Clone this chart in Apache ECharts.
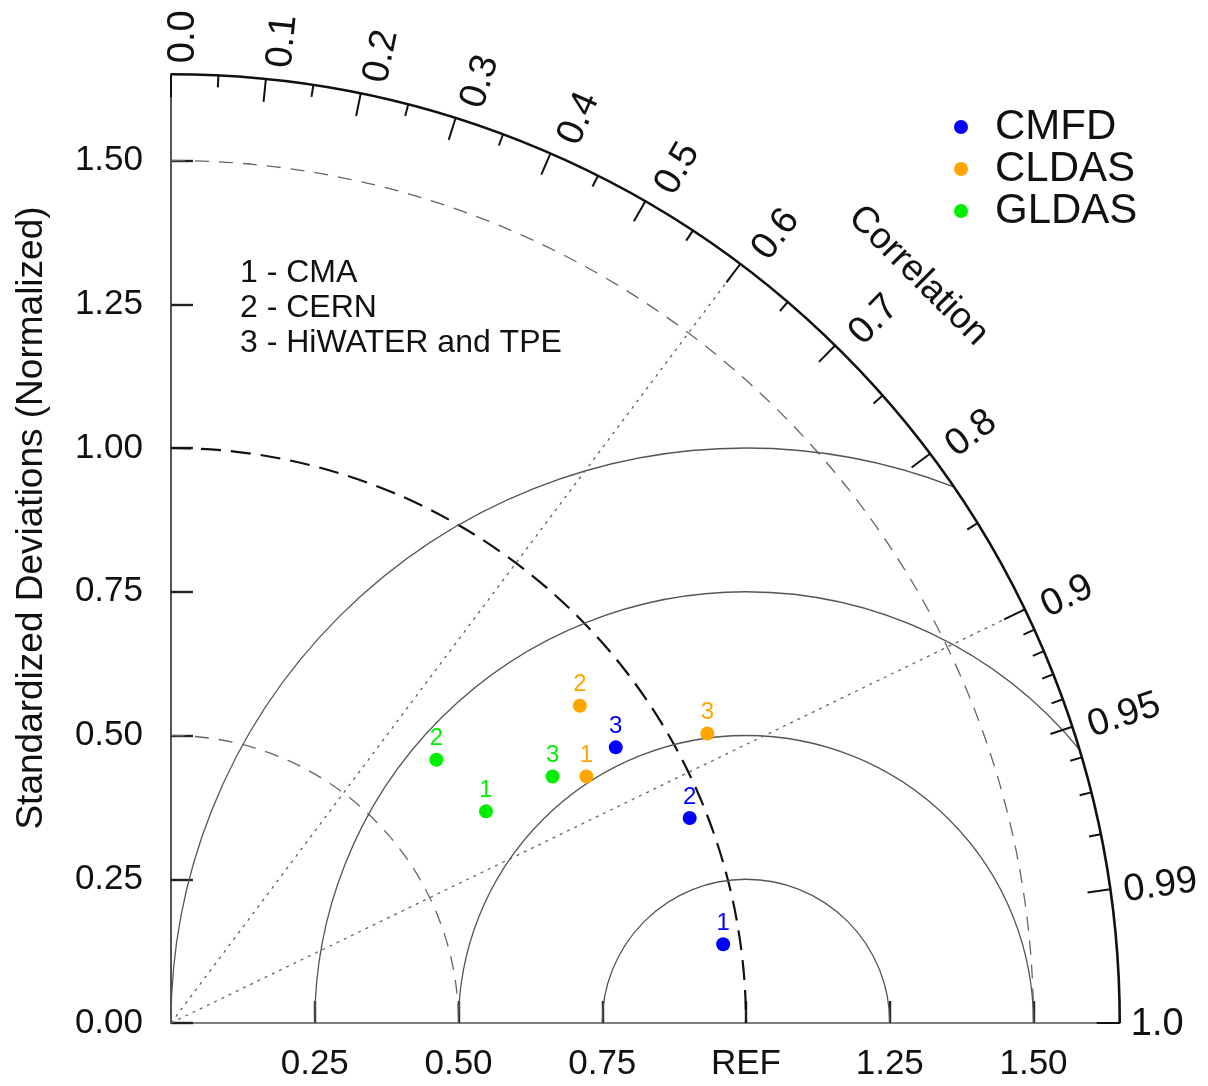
<!DOCTYPE html>
<html><head><meta charset="utf-8">
<script src="https://cdn.jsdelivr.net/npm/echarts@6/dist/echarts.min.js"></script>
<style>html,body{margin:0;padding:0;background:#fff}#c{width:1208px;height:1086px}</style>
</head><body><div id="c"></div>
<script>
// ---- data ----
const seriesNames = ['CMFD', 'CLDAS', 'GLDAS'];
const seriesColors = ['#0000ff', '#ffa500', '#00ee00'];
const pointLabels = ['1', '2', '3'];
const cmfdStd = [0.97, 0.97, 0.91];
const cmfdCorr = [0.99, 0.93, 0.85];
const cldasStd = [0.84, 0.90, 1.06];
const cldasCorr = [0.86, 0.79, 0.88];
const gldasStd = [0.66, 0.65, 0.79];
const gldasCorr = [0.83, 0.71, 0.84];
const sourceNotes = ['1 - CMA', '2 - CERN', '3 - HiWATER and TPE'];
const yTicks = [0, 0.25, 0.5, 0.75, 1.0, 1.25, 1.5];
const xTicks = [0.25, 0.5, 0.75, 1.0, 1.25, 1.5];
const refStd = 1.0;
const stdMax = 1.65;
const corrMajor = [0.0, 0.1, 0.2, 0.3, 0.4, 0.5, 0.6, 0.7, 0.8, 0.9, 0.95, 0.99, 1.0];
const corrMajorLabels = ['0.0', '0.1', '0.2', '0.3', '0.4', '0.5', '0.6', '0.7', '0.8', '0.9', '0.95', '0.99', '1.0'];
const corrMinor = [0.05, 0.15, 0.25, 0.35, 0.45, 0.55, 0.65, 0.75, 0.85, 0.91, 0.92, 0.93, 0.94, 0.96, 0.97, 0.98];
const stdArcs = [0.5, 1.0, 1.5];
const rmsArcs = [0.25, 0.5, 0.75, 1.0];
const corrLines = [0.6, 0.9];
const yTitle = 'Standardized Deviations (Normalized)';
const corrTitle = 'Correlation';

// ---- helpers ----
const FONT = '"Liberation Sans", Arial, Helvetica, sans-serif';
function toXY(std, corr) { return [std * corr, std * Math.sqrt(Math.max(0, 1 - corr * corr))]; }
function pts(stdArr, corrArr) {
  return stdArr.map((s, i) => { const p = toXY(s, corrArr[i]); return { value: [p[0], p[1]], label: { formatter: pointLabels[i] } }; });
}
const allStd = [cmfdStd, cldasStd, gldasStd];
const allCorr = [cmfdCorr, cldasCorr, gldasCorr];

const S = 575; // px per unit
const originX = 171, originY = 1023;

const chart = echarts.init(document.getElementById('c'), null, { renderer: 'canvas' });

const scatterSeries = seriesNames.map((n, k) => ({
  name: n, type: 'scatter', z: 10,
  symbol: 'circle', symbolSize: 14,
  itemStyle: { color: seriesColors[k], opacity: 1 },
  label: { show: true, position: 'top', distance: 2, color: seriesColors[k], fontSize: 24, fontFamily: FONT },
  data: pts(allStd[k], allCorr[k])
}));

function stdArcItem(params, api) {
  const r = api.value(0);
  const o = api.coord([0, 0]);
  const u = api.size([1, 1])[0];
  const isRef = Math.abs(r - refStd) < 1e-9;
  return {
    type: 'arc',
    shape: { cx: o[0], cy: o[1], r: r * u, startAngle: -Math.PI / 2, endAngle: 0, clockwise: true },
    style: { stroke: isRef ? '#111' : '#666', lineWidth: isRef ? 2.2 : 1.3, lineDash: isRef ? [20, 10] : [14, 10], fill: 'none' }
  };
}
function outerArcItem(params, api) {
  const o = api.coord([0, 0]);
  const u = api.size([1, 1])[0];
  return {
    type: 'arc',
    shape: { cx: o[0], cy: o[1], r: api.value(0) * u, startAngle: -Math.PI / 2, endAngle: 0, clockwise: true },
    style: { stroke: '#111', lineWidth: 2.6, fill: 'none' }
  };
}
function rmsArcItem(params, api) {
  const rho = api.value(0);
  const c = api.coord([refStd, 0]);
  const u = api.size([1, 1])[0];
  let phi0 = 0;
  if (refStd + rho > stdMax) {
    const x = (stdMax * stdMax - rho * rho + refStd * refStd) / (2 * refStd);
    phi0 = Math.acos((x - refStd) / rho);
  }
  return {
    type: 'arc',
    shape: { cx: c[0], cy: c[1], r: rho * u, startAngle: -Math.PI, endAngle: -phi0, clockwise: true },
    style: { stroke: '#555', lineWidth: 1.3, fill: 'none' }
  };
}
function corrLineItem(params, api) {
  const cr = api.value(0);
  const o = api.coord([0, 0]);
  const e = api.coord(toXY(stdMax, cr));
  return {
    type: 'line', shape: { x1: o[0], y1: o[1], x2: e[0], y2: e[1] },
    style: { stroke: '#666', lineWidth: 1.3, lineDash: [3, 5] }
  };
}
function tickItem(len) {
  return function (params, api) {
    const cr = api.value(0);
    const e = api.coord(toXY(stdMax, cr));
    const th = Math.acos(cr);
    return {
      type: 'line',
      shape: { x1: e[0], y1: e[1], x2: e[0] - len * Math.cos(th), y2: e[1] + len * Math.sin(th) },
      style: { stroke: '#111', lineWidth: 2 }
    };
  };
}
function corrLabelItem(params, api) {
  const cr = api.value(0);
  const idx = api.value(1);
  const e = api.coord(toXY(stdMax, cr));
  const th = Math.acos(cr);
  const gap = 11 + 8 * Math.sin(2 * th);
  const perp = 2 + 11 * Math.sin(th);
  const ux = Math.cos(th), uy = -Math.sin(th);
  const px = Math.sin(th), py = Math.cos(th);
  return {
    type: 'text',
    x: e[0] + gap * ux + perp * px,
    y: e[1] + gap * uy + perp * py,
    rotation: th,
    style: { text: corrMajorLabels[idx], font: '38px ' + FONT, fill: '#111', align: 'left', verticalAlign: 'middle' }
  };
}
function corrTitleItem(params, api) {
  const th = Math.PI / 4;
  const e = api.coord(toXY(stdMax, Math.cos(th)));
  const d = 108;
  return {
    type: 'text',
    x: e[0] + d * Math.cos(th), y: e[1] - d * Math.sin(th),
    rotation: -(Math.PI / 2 - th),
    style: { text: corrTitle, font: '37px ' + FONT, fill: '#111', align: 'center', verticalAlign: 'middle' }
  };
}

const custom = (data, fn, z) => ({ type: 'custom', coordinateSystem: 'cartesian2d', renderItem: fn, data: data, z: z, silent: true, clip: false });

const option = {
  animation: false,
  backgroundColor: '#fff',
  grid: { left: originX, top: originY - stdMax * S, width: stdMax * S, height: stdMax * S, containLabel: false },
  xAxis: {
    type: 'value', min: 0, max: stdMax, interval: 0.25,
    splitLine: { show: false },
    axisLine: { show: true, onZero: false, lineStyle: { color: '#555', width: 1.6 } },
    axisTick: { show: true, inside: true, length: 22, customValues: xTicks, lineStyle: { color: '#222', width: 2.4 } },
    axisLabel: {
      customValues: xTicks, margin: 24, fontSize: 35, color: '#111', fontFamily: FONT,
      formatter: v => (Math.abs(v - refStd) < 1e-9 ? 'REF' : v.toFixed(2))
    }
  },
  yAxis: {
    type: 'value', min: 0, max: stdMax, interval: 0.25,
    splitLine: { show: false },
    axisLine: { show: true, onZero: false, lineStyle: { color: '#555', width: 2 } },
    axisTick: { show: true, inside: true, length: 22, customValues: yTicks, lineStyle: { color: '#222', width: 2.4 } },
    axisLabel: { customValues: yTicks, margin: 28, fontSize: 35, color: '#111', fontFamily: FONT, formatter: v => v.toFixed(2) }
  },
  legend: {
    data: seriesNames, orient: 'vertical', left: 949, top: 101,
    icon: 'circle', itemWidth: 14, itemHeight: 14, itemGap: 0,
    itemStyle: { opacity: 1 },
    textStyle: { fontSize: 42, lineHeight: 42, color: '#111', fontFamily: FONT, padding: [0, 0, 0, 22] }
  },
  graphic: [
    { type: 'text', x: 32, y: 518, rotation: Math.PI / 2,
      style: { text: yTitle, font: '37px ' + FONT, fill: '#111', align: 'center', verticalAlign: 'middle' } },
    { type: 'text', left: 240, top: 256,
      style: { text: sourceNotes.join('\n'), font: '32px ' + FONT, lineHeight: 35, fill: '#111' } }
  ],
  series: [
    custom(stdArcs.map(v => [v, 0]), stdArcItem, 2),
    custom(rmsArcs.map(v => [v, 0]), rmsArcItem, 2),
    custom(corrLines.map(v => [v, 0]), corrLineItem, 2),
    custom([[stdMax, 0]], outerArcItem, 3),
    custom(corrMajor.map(v => [v, 0]), tickItem(23), 3),
    custom(corrMinor.map(v => [v, 0]), tickItem(12), 3),
    custom(corrMajor.map((v, i) => [v, i]), corrLabelItem, 3),
    custom([[0, 0]], corrTitleItem, 3),
    ...scatterSeries
  ]
};
chart.setOption(option);
</script>
</body></html>
